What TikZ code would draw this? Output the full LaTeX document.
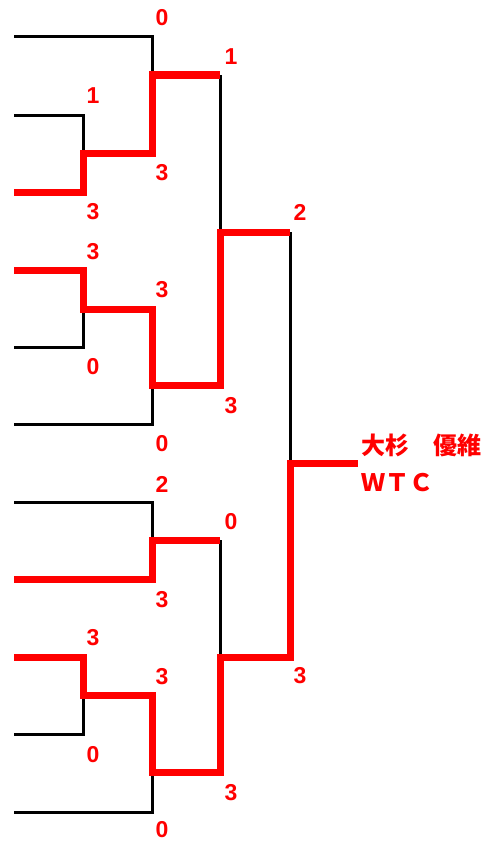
\documentclass[tikz,border=0pt]{standalone}
\usepackage{fontspec}
\setmainfont{Liberation Sans}
\newfontfamily\jpfont{Noto Sans CJK JP}
\begin{document}
\begin{tikzpicture}[x=1pt,y=-1pt,
  loser/.style={black,line width=3pt},
  winner/.style={draw=won,line width=7pt,line join=miter},
  score/.style={text=won,inner sep=0pt,font=\fontsize{23}{23}\selectfont\bfseries},
  champ/.style={text=won,inner sep=0pt,anchor=west,font=\jpfont\fontsize{24}{24}\selectfont\bfseries}]
  \definecolor{won}{HTML}{FF0000}
  \useasboundingbox (0,0) rectangle (501,843);
  % players
  \coordinate (e1) at (14,37);
  \coordinate (e2) at (14,115);
  \coordinate (e3) at (14,192);
  \coordinate (e4) at (14,270);
  \coordinate (e5) at (14,347);
  \coordinate (e6) at (14,424);
  \coordinate (e7) at (14,502);
  \coordinate (e8) at (14,579);
  \coordinate (e9) at (14,657);
  \coordinate (e10) at (14,734);
  \coordinate (e11) at (14,812);
  % matches
  \coordinate (a) at (83,153.5);
  \coordinate (b) at (152,75);
  \coordinate (c) at (83,309);
  \coordinate (d) at (152,385);
  \coordinate (ee) at (220,232);
  \coordinate (f) at (152,540);
  \coordinate (g) at (83,695);
  \coordinate (h) at (152,772);
  \coordinate (i) at (220,657);
  \coordinate (j) at (290,463);
  \coordinate (w) at (358,463);
  % bracket
  \draw [loser] (e1) -| (a -| b);
  \draw [loser] (e2) -| (a) |- (e3);
  \draw [loser] (e4) -| (c) |- (e5);
  \draw [loser] (c -| d) |- (e6);
  \draw [loser] (b -| ee) |- (d);
  \draw [loser] (e7) -| (f) |- (e8);
  \draw [loser] (e9) -| (g) |- (e10);
  \draw [loser] (g -| h) |- (e11);
  \draw [loser] (f -| i) |- (h);
  \draw [loser] (ee -| j) |- (i);
  % winners
  \draw [winner] (e3) -| (a) -| (b) -- (b -| ee);
  \draw [winner] (e4) -| (c) -| (d) -| (ee) -- (ee -| j);
  \draw [winner] (e8) -| (f) -- (f -| i);
  \draw [winner] (e9) -| (g) -| (h) -| (i) -| (j) -- (w);
  % scores
  \node [score] (s1) at (162,18) {0};
  \node [score] (s2) at (231,57) {1};
  \node [score] (s3) at (93,96) {1};
  \node [score] (s4) at (162,173) {3};
  \node [score] (s5) at (93,212) {3};
  \node [score] (s6) at (300,212) {2};
  \node [score] (s7) at (93,252) {3};
  \node [score] (s8) at (162,290) {3};
  \node [score] (s9) at (93,367) {0};
  \node [score] (s10) at (231,406) {3};
  \node [score] (s11) at (162,444) {0};
  \node [score] (s12) at (162,484) {2};
  \node [score] (s13) at (231,522) {0};
  \node [score] (s14) at (162,600) {3};
  \node [score] (s15) at (93,638) {3};
  \node [score] (s16) at (162,677) {3};
  \node [score] (s17) at (300,676) {3};
  \node [score] (s18) at (93,755) {0};
  \node [score] (s19) at (231,793) {3};
  \node [score] (s20) at (162,830) {0};
  % champion
  \node [champ] (name) at (361,445) {大杉　優維};
  \node [champ] (club) at (361,483) {ＷＴＣ};
\end{tikzpicture}
\end{document}
